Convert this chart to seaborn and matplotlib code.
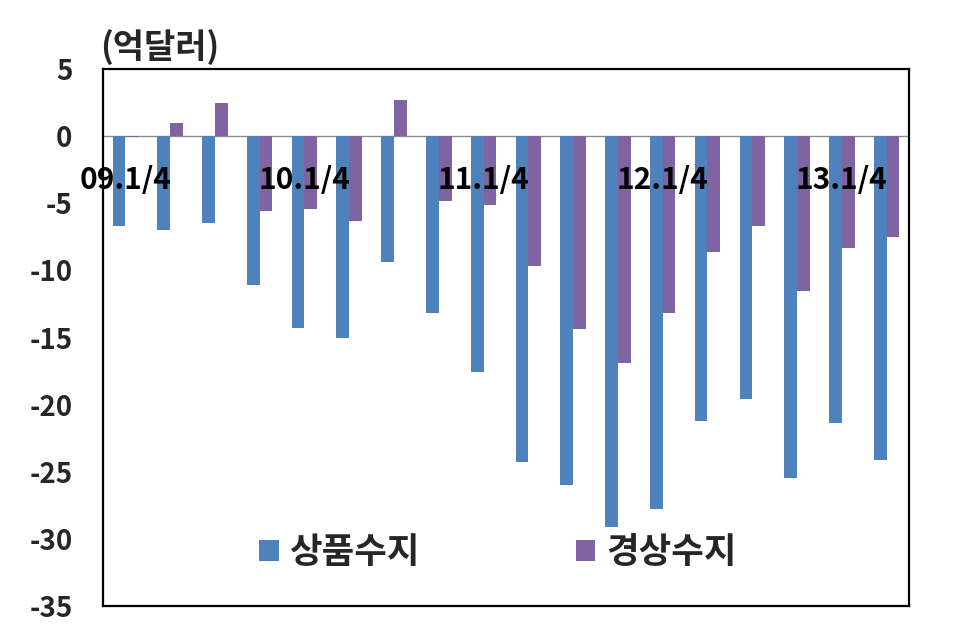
import pandas as pd
import matplotlib
matplotlib.use("Agg")
import matplotlib.pyplot as plt
import seaborn as sns

# -------------------------------
# Data (억달러)
# -------------------------------
quarters = ["09.1/4", "09.2/4", "09.3/4", "09.4/4",
            "10.1/4", "10.2/4", "10.3/4", "10.4/4",
            "11.1/4", "11.2/4", "11.3/4", "11.4/4",
            "12.1/4", "12.2/4", "12.3/4", "12.4/4",
            "13.1/4", "13.2/4"]
goods_balance = [-6.7, -7.0, -6.5, -11.1, -14.3, -15.0, -9.4, -13.2, -17.6,
                 -24.3, -26.0, -29.1, -27.8, -21.2, -19.6, -25.5, -21.4, -24.1]
current_balance = [-0.1, 1.0, 2.5, -5.6, -5.4, -6.3, 2.7, -4.8, -5.1,
                   -9.7, -14.4, -16.9, -13.2, -8.6, -6.7, -11.5, -8.3, -7.5]
series_names = ["상품수지", "경상수지"]
shown_quarters = ["09.1/4", "10.1/4", "11.1/4", "12.1/4", "13.1/4"]
y_ticks = [5, 0, -5, -10, -15, -20, -25, -30, -35]

df = pd.DataFrame({
    "quarter": quarters * 2,
    "value": goods_balance + current_balance,
    "series": [series_names[0]] * len(quarters) + [series_names[1]] * len(quarters),
})

# -------------------------------
# Style
# -------------------------------
sns.set_style("white")
plt.rcParams["font.family"] = ["Noto Sans CJK KR", "DejaVu Sans"]
plt.rcParams["font.weight"] = "bold"
plt.rcParams["axes.unicode_minus"] = False

fig = plt.figure(figsize=(9.77, 6.38), dpi=100)
ax = fig.add_axes([0.1054, 0.0502, 0.825, 0.8416])

sns.barplot(data=df, x="quarter", y="value", hue="series",
            order=quarters, hue_order=series_names,
            palette=["#4F81BD", "#8064A2"], saturation=1,
            width=0.57, gap=0, linewidth=0, ax=ax)

ax.axhline(0, color="#8C8C8C", linewidth=1, zorder=0.5)

ax.set_ylim(-35, 5)
ax.set_yticks(y_ticks)
ax.set_yticklabels([str(t) for t in y_ticks], fontsize=20, fontweight="bold")
ax.tick_params(axis="y", length=0, pad=22)

# x labels sit just below the zero line
ax.set_xticks([])
ax.set_xlabel("")
ax.set_ylabel("")
for q in shown_quarters:
    ax.text(quarters.index(q), -3.3, q, ha="center", va="center",
            fontsize=21.5, fontweight="bold", color="black")

for side in ["left", "right", "top", "bottom"]:
    ax.spines[side].set_visible(True)
    ax.spines[side].set_color("black")
    ax.spines[side].set_linewidth(1.6)

handles, labels = ax.get_legend_handles_labels()
ax.legend(handles, labels, loc="center", bbox_to_anchor=(0.49, 0.1),
          ncol=2, frameon=False,
          handlelength=0.55, handleheight=0.55, handletextpad=0.3,
          columnspacing=4.4, prop={"size": 25.5, "weight": "bold"})

fig.text(0.102, 0.926, "(억달러)", ha="left", va="center",
         fontsize=24.5, fontweight="bold")

fig.savefig("out.png", dpi=100)
